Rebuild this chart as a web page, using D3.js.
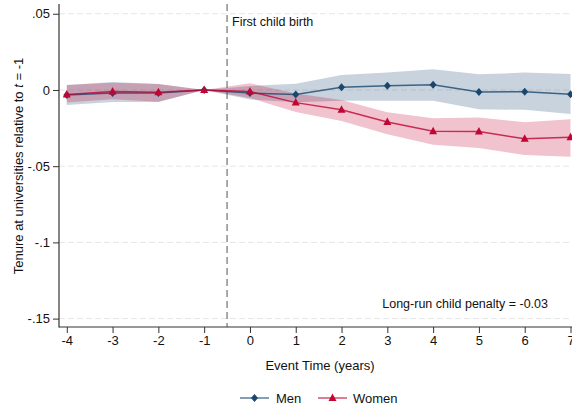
<!DOCTYPE html>
<html>
<head>
<meta charset="utf-8">
<script src="https://cdn.jsdelivr.net/npm/d3@7"></script>
<style>
html,body{margin:0;padding:0;background:#fff;}
svg{display:block;font-family:"Liberation Sans",Arial,sans-serif;}
</style>
</head>
<body>
<svg id="chart" width="572" height="412"></svg>
<script>
const eventTime = [-4,-3,-2,-1,0,1,2,3,4,5,6,7];
const menEst   = [-0.0033,-0.0020,-0.0020,0,-0.0020,-0.0030,0.0018,0.0028,0.0035,-0.0013,-0.0011,-0.0028];
const menLo    = [-0.0098,-0.0079,-0.0079,0,-0.0062,-0.0080,-0.0070,-0.0070,-0.0070,-0.0127,-0.0130,-0.0157];
const menHi    = [0.0033,0.0052,0.0039,0,0.0026,0.0040,0.0098,0.0114,0.0136,0.0103,0.0114,0.0105];
const womenEst = [-0.0030,-0.0010,-0.0015,0,-0.0010,-0.0083,-0.0130,-0.0210,-0.0270,-0.0273,-0.0320,-0.0310];
const womenLo  = [-0.0083,-0.0061,-0.0077,0,-0.0052,-0.0144,-0.0203,-0.0290,-0.0360,-0.0380,-0.0427,-0.0438];
const womenHi  = [0.0033,0.0048,0.0039,0,0.0044,-0.0023,-0.0066,-0.0146,-0.0186,-0.0180,-0.0212,-0.0192];
const yTicks = [0.05,0,-0.05,-0.1,-0.15];
const yTickLabels = [".05","0","-.05","-.1","-.15"];
const xTicks = [-4,-3,-2,-1,0,1,2,3,4,5,6,7];
const eventLine = -0.5;
const seriesNames = ["Men","Women"];

const navy = "#1a476f", red = "#c10534";
const svg = d3.select("#chart");
const x = d3.scaleLinear().domain([-4.17, 7]).range([59, 570.5]);
const y = d3.scaleLinear().domain([0.0564, -0.1555]).range([4, 327]);
const left = 59, bottom = 327, right = 572;

// gridlines
svg.append("g").selectAll("line").data(yTicks).join("line")
  .attr("x1", left).attr("x2", right)
  .attr("y1", d=>y(d)).attr("y2", d=>y(d))
  .attr("stroke", "#e6e6e6").attr("stroke-width", 1).attr("stroke-dasharray", "6,3");

// bands
const area = (lo, hi) => d3.area().x((d,i)=>x(eventTime[i])).y0((d,i)=>y(lo[i])).y1((d,i)=>y(hi[i]));
svg.append("path").datum(eventTime).attr("d", area(menLo, menHi)(eventTime))
  .attr("fill", navy).attr("fill-opacity", 0.24);
svg.append("path").datum(eventTime).attr("d", area(womenLo, womenHi)(eventTime))
  .attr("fill", red).attr("fill-opacity", 0.24);

// vertical event line
svg.append("line").attr("x1", x(eventLine)).attr("x2", x(eventLine))
  .attr("y1", 4).attr("y2", bottom)
  .attr("stroke", "#555").attr("stroke-width", 1).attr("stroke-dasharray", "7,4");
svg.append("text").attr("x", x(eventLine)+5).attr("y", 26)
  .attr("font-size", 12.5).attr("fill", "#111").text("First child birth");

// lines
const line = est => d3.line().x((d,i)=>x(eventTime[i])).y((d,i)=>y(est[i]))(eventTime);
svg.append("path").attr("d", line(menEst)).attr("fill","none").attr("stroke", navy).attr("stroke-opacity",0.8).attr("stroke-width",1.5);
svg.append("path").attr("d", line(womenEst)).attr("fill","none").attr("stroke", red).attr("stroke-opacity",0.8).attr("stroke-width",1.5);

const diamond = "M0,-4L3.5,0L0,4L-3.5,0Z";
const triangle = "M0,-4.5L4,3L-4,3Z";
svg.append("g").selectAll("path").data(eventTime).join("path")
  .attr("d", diamond).attr("fill", navy)
  .attr("transform", (d,i)=>`translate(${x(d)},${y(menEst[i])})`);
svg.append("g").selectAll("path").data(eventTime).join("path")
  .attr("d", triangle).attr("fill", red)
  .attr("transform", (d,i)=>`translate(${x(d)},${y(womenEst[i])})`);

// axes
const axisColor = "#333";
const yAxis = svg.append("g").attr("transform", `translate(${left},0)`)
  .call(d3.axisLeft(y).tickValues(yTicks).tickFormat((d,i)=>yTickLabels[i]).tickSize(6).tickPadding(3));
yAxis.select(".domain").remove();
svg.append("line").attr("x1", left).attr("x2", left).attr("y1", 4).attr("y2", bottom+0.5).attr("stroke", axisColor).attr("stroke-width", 1.2);
const xAxis = svg.append("g").attr("transform", `translate(0,${bottom})`)
  .call(d3.axisBottom(x).tickValues(xTicks).tickFormat(d3.format("d")).tickSize(6).tickPadding(3));
xAxis.select(".domain").remove();
svg.append("line").attr("x1", left).attr("x2", right).attr("y1", bottom).attr("y2", bottom).attr("stroke", axisColor).attr("stroke-width", 1.2);
[yAxis, xAxis].forEach(g => {
  g.selectAll("line").attr("stroke", axisColor);
  g.selectAll("text").attr("font-size", 13).attr("fill", "#111").attr("font-family", "Liberation Sans, Arial, sans-serif");
});
xAxis.selectAll("text").text(d => d < 0 ? "-" + Math.abs(d) : d);

// axis titles
svg.append("text").attr("x", 320).attr("y", 370).attr("text-anchor","middle")
  .attr("font-size", 13).attr("fill","#111").text("Event Time (years)");
const yl = svg.append("text").attr("transform","translate(23,166) rotate(-90)").attr("text-anchor","middle")
  .attr("font-size", 13).attr("fill","#111");
yl.append("tspan").text("Tenure at universities relative to ");
yl.append("tspan").attr("font-style","italic").text("t");
yl.append("tspan").text(" = -1");

// annotation
svg.append("text").attr("x", 548).attr("y", 308).attr("text-anchor","end")
  .attr("font-size", 12.5).attr("fill","#111").text("Long-run child penalty = -0.03");

// legend
const leg = [{name: seriesNames[0], c: navy, m: diamond, x0: 240, tx: 276},
             {name: seriesNames[1], c: red, m: triangle, x0: 318, tx: 353}];
leg.forEach(l => {
  svg.append("line").attr("x1", l.x0).attr("x2", l.x0+29).attr("y1", 398).attr("y2", 398)
    .attr("stroke", l.c).attr("stroke-opacity",0.7).attr("stroke-width",1.5);
  svg.append("path").attr("d", l.m).attr("fill", l.c).attr("transform", `translate(${l.x0+14.5},398)`);
  svg.append("text").attr("x", l.tx).attr("y", 403).attr("font-size", 13).attr("fill","#111").text(l.name);
});
</script>
</body>
</html>
